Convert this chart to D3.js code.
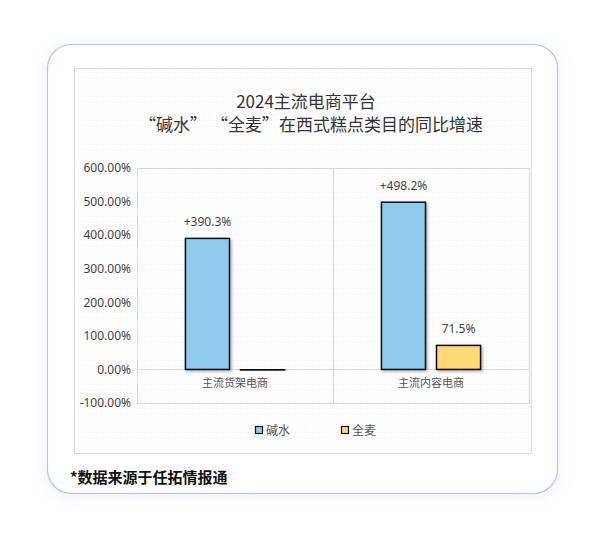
<!DOCTYPE html>
<html>
<head>
<meta charset="utf-8">
<script src="https://cdn.jsdelivr.net/npm/d3@7"></script>
<style>
  html, body { margin: 0; padding: 0; background: #ffffff; }
  svg { display: block; font-family: "Noto Sans CJK SC", "Noto Sans", sans-serif; }
</style>
</head>
<body>
<div id="chart"></div>
<script>
// data
const categories = ["主流货架电商", "主流内容电商"];
const seriesNames = ["碱水", "全麦"];
const jianshui = [390.3, 498.2];
const quanmai = [-1.2, 71.5];
const barLabels = [["+390.3%", ""], ["+498.2%", "71.5%"]];
const yTicks = [-100, 0, 100, 200, 300, 400, 500, 600];
const colors = ["#8ecbef", "#ffd978"];

const W = 606, H = 546;
const plot = {left: 137, right: 529, top: 168, bottom: 403};

const svg = d3.select("#chart").append("svg")
    .attr("width", W)
    .attr("height", H);

const defs = svg.append("defs");

// card shadow
const shadow = defs.append("filter").attr("id", "cardShadow")
    .attr("x", "-10%").attr("y", "-10%").attr("width", "120%").attr("height", "120%");
shadow.append("feDropShadow")
    .attr("dx", 0).attr("dy", 2).attr("stdDeviation", 8)
    .attr("flood-color", "#9aa8d0").attr("flood-opacity", 0.18);

// bar shadow
const barShadow = defs.append("filter").attr("id", "barShadow")
    .attr("x", "-20%").attr("y", "-20%").attr("width", "150%").attr("height", "150%");
barShadow.append("feDropShadow")
    .attr("dx", 1.5).attr("dy", 1.5).attr("stdDeviation", 1.5)
    .attr("flood-color", "#000").attr("flood-opacity", 0.3);

// faint excel-like grid texture
const pat = defs.append("pattern").attr("id", "grid")
    .attr("width", 6).attr("height", 6).attr("patternUnits", "userSpaceOnUse");
pat.append("rect").attr("width", 6).attr("height", 6).attr("fill", "#ffffff");
pat.append("path").attr("d", "M6 0 L0 0 0 6")
    .attr("fill", "none").attr("stroke", "#f3f3f3").attr("stroke-width", 0.7);

// card
svg.append("rect")
    .attr("x", 47.5).attr("y", 44.5)
    .attr("width", 510).attr("height", 449)
    .attr("rx", 24)
    .attr("fill", "#ffffff")
    .attr("stroke", "#b3c6f2")
    .attr("stroke-width", 1.2)
    .attr("filter", "url(#cardShadow)");

// chart frame
svg.append("rect")
    .attr("x", 74.5).attr("y", 68.5)
    .attr("width", 457).attr("height", 385)
    .attr("fill", "url(#grid)")
    .attr("stroke", "#dcdcdc");

// title
const title = svg.append("text")
    .attr("text-anchor", "middle")
    .attr("fill", "#333")
    .style("font-size", "17px");
title.append("tspan").attr("x", 306).attr("y", 108).text("2024主流电商平台");
title.append("tspan").attr("x", 311).attr("y", 131).text("“碱水” “全麦”在西式糕点类目的同比增速");

// scales
const x0 = d3.scaleBand()
    .domain(categories)
    .range([plot.left, plot.right]);

const x1 = d3.scaleBand()
    .domain(seriesNames)
    .range([0, x0.bandwidth()])
    .paddingInner(0.2)
    .paddingOuter(0.88);

const y = d3.scaleLinear()
    .domain([-100, 600])
    .range([plot.bottom, plot.top]);

const g = svg.append("g");

// plot area border and category divider
g.append("rect")
    .attr("x", plot.left + 0.5).attr("y", plot.top + 0.5)
    .attr("width", plot.right - plot.left).attr("height", plot.bottom - plot.top)
    .attr("fill", "none")
    .attr("stroke", "#d9d9d9");

categories.slice(1).forEach(function (c) {
    g.append("line")
        .attr("x1", x0(c) + 0.5).attr("x2", x0(c) + 0.5)
        .attr("y1", plot.top).attr("y2", plot.bottom)
        .attr("stroke", "#d9d9d9");
});

// zero line
g.append("line")
    .attr("x1", plot.left).attr("x2", plot.right)
    .attr("y1", Math.round(y(0)) + 0.5).attr("y2", Math.round(y(0)) + 0.5)
    .attr("stroke", "#d9d9d9");

// y axis
const yAxis = g.append("g")
    .attr("transform", "translate(" + (plot.left - 6) + ",0)")
    .call(d3.axisLeft(y).tickValues(yTicks).tickSize(0).tickPadding(0)
        .tickFormat(function (d) { return d.toFixed(2) + "%"; }));
yAxis.select(".domain").remove();
yAxis.selectAll("text")
    .attr("fill", "#444")
    .style("font-size", "12px")
    .style("font-family", "'Noto Sans', 'Noto Sans CJK SC', sans-serif");

// bars
const values = [jianshui, quanmai];
categories.forEach(function (c, ci) {
    seriesNames.forEach(function (s, si) {
        const v = values[si][ci];
        const bx = x0(c) + x1(s);
        const top = y(Math.max(v, 0));
        const h = Math.max(Math.abs(y(v) - y(0)), 0.5);
        g.append("rect")
            .attr("x", bx)
            .attr("y", top)
            .attr("width", x1.bandwidth())
            .attr("height", h)
            .attr("fill", colors[si])
            .attr("stroke", "#111")
            .attr("stroke-width", 1.5)
            .attr("filter", "url(#barShadow)");

        const label = barLabels[ci][si];
        if (label) {
            g.append("text")
                .attr("x", bx + x1.bandwidth() / 2)
                .attr("y", top - 12)
                .attr("text-anchor", "middle")
                .attr("fill", "#444")
                .style("font-size", "12px")
                .style("font-family", "'Noto Sans', 'Noto Sans CJK SC', sans-serif")
                .text(label);
        }
    });

    // category label
    g.append("text")
        .attr("x", x0(c) + x0.bandwidth() / 2)
        .attr("y", y(0) + 18)
        .attr("text-anchor", "middle")
        .attr("fill", "#555")
        .style("font-size", "11px")
        .text(c);
});

// legend
const legend = svg.append("g").attr("transform", "translate(255,426)");
seriesNames.forEach(function (s, i) {
    const lg = legend.append("g").attr("transform", "translate(" + (i * 86) + ",0)");
    lg.append("rect")
        .attr("x", 0.5).attr("y", 0.5)
        .attr("width", 7).attr("height", 7)
        .attr("fill", colors[i])
        .attr("stroke", "#111")
        .attr("stroke-width", 1.2);
    lg.append("text")
        .attr("x", 11).attr("y", 8.5)
        .attr("fill", "#555")
        .style("font-size", "12px")
        .text(s);
});

// source note
svg.append("text")
    .attr("x", 70).attr("y", 483)
    .attr("fill", "#111")
    .style("font-size", "15px")
    .style("font-weight", "bold")
    .text("*数据来源于任拓情报通");
</script>
</body>
</html>
